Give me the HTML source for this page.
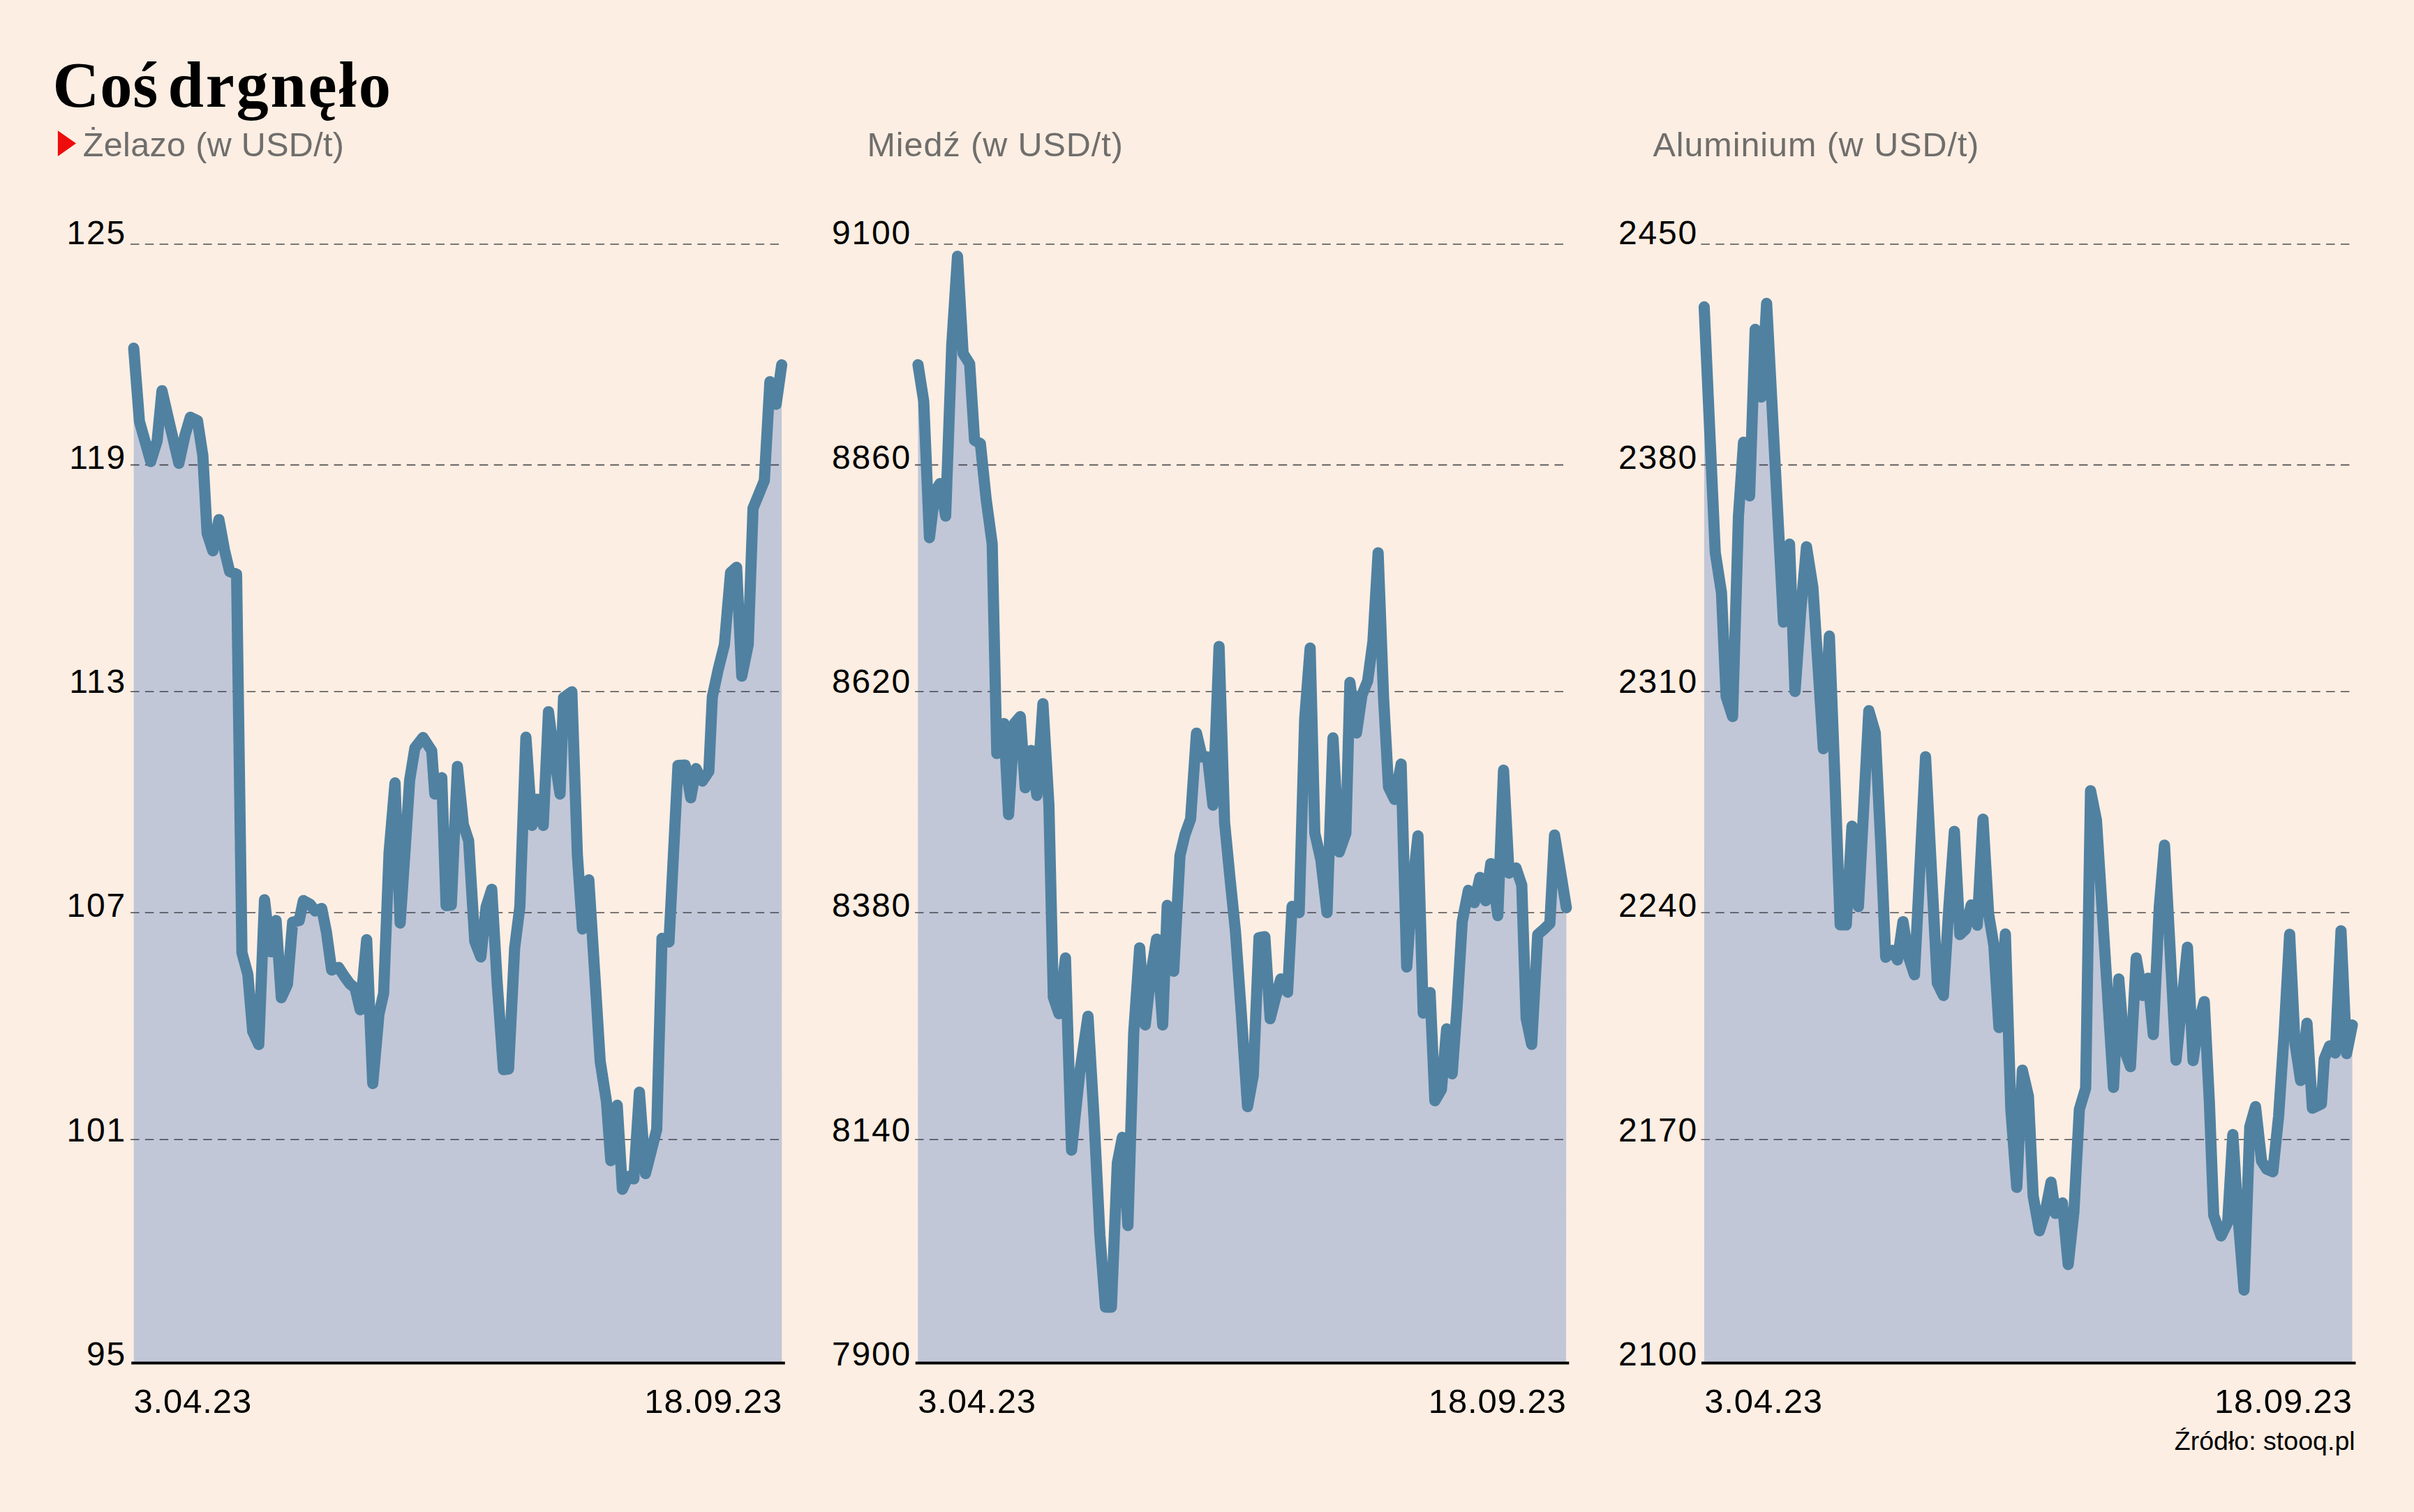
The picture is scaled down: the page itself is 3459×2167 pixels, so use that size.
<!DOCTYPE html>
<html lang="pl"><head><meta charset="utf-8"><title>Coś drgnęło</title>
<style>
html,body{margin:0;padding:0;background:#fceee2;}
body{width:3459px;height:2167px;overflow:hidden;}
svg{display:block;}
text{font-family:"Liberation Sans",sans-serif;}
.t{font-family:"Liberation Serif",serif;font-weight:bold;}
</style></head><body>
<svg width="3459" height="2167" viewBox="0 0 3459 2167">
<rect width="3459" height="2167" fill="#fceee2"/>
<text class="t" x="75.5" y="153.2" font-size="92.5" letter-spacing="0.85" fill="#000">Coś</text>
<text class="t" x="240.6" y="153.2" font-size="92.5" letter-spacing="2.7" fill="#000">drgnęło</text>
<path d="M82.9 187.3 L109 205.6 L82.9 224 Z" fill="#ed0d0d"/>
<g>
<text x="118.8" y="223.6" font-size="48.5" letter-spacing="0.33" fill="#706e6c">Żelazo (w USD/t)</text>
<path d="M191.7 1953.5 L191.6 499 L199.8 604 L208 633 L216 661.5 L225.2 631.6 L232.1 560 L244 611.7 L256.3 664 L265 624 L272.7 598 L283 603 L290.6 652.7 L296.8 764.6 L305 789.4 L313.7 744.7 L321.6 788 L329 819 L339 823 L346.7 1365.3 L355.1 1396.4 L362.1 1478.4 L370.8 1497 L379 1289.5 L387.7 1364 L395.6 1319.3 L403.1 1430 L411.8 1411 L419.3 1321.8 L428.7 1319.3 L434.7 1290.7 L444 1295.7 L451.6 1305.6 L461 1302 L467.7 1335.5 L475.2 1390.2 L485.1 1386.4 L493.3 1399 L501.3 1410 L508.7 1416 L516.2 1447.3 L525.4 1346.7 L534.1 1553 L543 1453.5 L549.7 1423.7 L557.5 1222 L566 1122 L573.4 1323 L581 1210 L587 1118 L594.5 1072 L606.2 1057 L618.6 1076 L623 1138 L633 1114.6 L639.2 1298 L646.7 1297 L655.4 1098.4 L664 1182 L671.5 1205 L680.3 1349 L689 1371.5 L696.5 1300 L704.6 1274.6 L712.5 1410 L721.3 1533 L728.7 1532 L737.4 1359 L744.9 1299.4 L753.6 1056.5 L762.3 1183 L769.7 1145.6 L778.4 1183 L785.9 1020 L794 1082 L802.5 1138 L807.5 1000 L819.4 991.5 L827.3 1225 L834.6 1331.5 L843.7 1261 L852 1392 L860 1521 L869 1579 L875.2 1663.5 L884.4 1584 L891.8 1704.5 L900.3 1686 L908.2 1689.6 L916.2 1565.3 L924.9 1682 L933 1650 L941 1618.7 L948.6 1344.7 L958.6 1350 L971.5 1097 L981.8 1096.5 L989.8 1143.4 L997.3 1101.5 L1006.3 1119.5 L1015.7 1105.6 L1020.7 998.7 L1029 960 L1038 924 L1046.8 820.8 L1055.5 813 L1062.9 969 L1072.1 924 L1079 728.6 L1087 709 L1095.2 688.8 L1103.2 547 L1112.1 579.4 L1120.1 522.8 L1120.3 1953.5 Z" fill="#c2c7d8"/>
<line x1="187" y1="350" x2="1117.6" y2="350" stroke="#26262c" stroke-opacity="0.8" stroke-width="1.6" stroke-dasharray="12.5 8.33"/>
<line x1="187" y1="666.4" x2="1117.6" y2="666.4" stroke="#26262c" stroke-opacity="0.8" stroke-width="1.6" stroke-dasharray="12.5 8.33"/>
<line x1="187" y1="991.2" x2="1117.6" y2="991.2" stroke="#26262c" stroke-opacity="0.8" stroke-width="1.6" stroke-dasharray="12.5 8.33"/>
<line x1="187" y1="1308" x2="1117.6" y2="1308" stroke="#26262c" stroke-opacity="0.8" stroke-width="1.6" stroke-dasharray="12.5 8.33"/>
<line x1="187" y1="1633.2" x2="1117.6" y2="1633.2" stroke="#26262c" stroke-opacity="0.8" stroke-width="1.6" stroke-dasharray="12.5 8.33"/>
<path d="M191.6 499 L199.8 604 L208 633 L216 661.5 L225.2 631.6 L232.1 560 L244 611.7 L256.3 664 L265 624 L272.7 598 L283 603 L290.6 652.7 L296.8 764.6 L305 789.4 L313.7 744.7 L321.6 788 L329 819 L339 823 L346.7 1365.3 L355.1 1396.4 L362.1 1478.4 L370.8 1497 L379 1289.5 L387.7 1364 L395.6 1319.3 L403.1 1430 L411.8 1411 L419.3 1321.8 L428.7 1319.3 L434.7 1290.7 L444 1295.7 L451.6 1305.6 L461 1302 L467.7 1335.5 L475.2 1390.2 L485.1 1386.4 L493.3 1399 L501.3 1410 L508.7 1416 L516.2 1447.3 L525.4 1346.7 L534.1 1553 L543 1453.5 L549.7 1423.7 L557.5 1222 L566 1122 L573.4 1323 L581 1210 L587 1118 L594.5 1072 L606.2 1057 L618.6 1076 L623 1138 L633 1114.6 L639.2 1298 L646.7 1297 L655.4 1098.4 L664 1182 L671.5 1205 L680.3 1349 L689 1371.5 L696.5 1300 L704.6 1274.6 L712.5 1410 L721.3 1533 L728.7 1532 L737.4 1359 L744.9 1299.4 L753.6 1056.5 L762.3 1183 L769.7 1145.6 L778.4 1183 L785.9 1020 L794 1082 L802.5 1138 L807.5 1000 L819.4 991.5 L827.3 1225 L834.6 1331.5 L843.7 1261 L852 1392 L860 1521 L869 1579 L875.2 1663.5 L884.4 1584 L891.8 1704.5 L900.3 1686 L908.2 1689.6 L916.2 1565.3 L924.9 1682 L933 1650 L941 1618.7 L948.6 1344.7 L958.6 1350 L971.5 1097 L981.8 1096.5 L989.8 1143.4 L997.3 1101.5 L1006.3 1119.5 L1015.7 1105.6 L1020.7 998.7 L1029 960 L1038 924 L1046.8 820.8 L1055.5 813 L1062.9 969 L1072.1 924 L1079 728.6 L1087 709 L1095.2 688.8 L1103.2 547 L1112.1 579.4 L1120.1 522.8" fill="none" stroke="#5081a1" stroke-width="16" stroke-linejoin="round" stroke-linecap="round"/>
<line x1="188.2" y1="1953.5" x2="1124.8" y2="1953.5" stroke="#000" stroke-width="4.2"/>
<text x="181.1" y="350.3" font-size="48" letter-spacing="1.8" text-anchor="end" fill="#000">125</text>
<text x="181.1" y="671.6" font-size="48" letter-spacing="1.8" text-anchor="end" fill="#000">119</text>
<text x="181.1" y="993" font-size="48" letter-spacing="1.8" text-anchor="end" fill="#000">113</text>
<text x="181.1" y="1314.3" font-size="48" letter-spacing="1.8" text-anchor="end" fill="#000">107</text>
<text x="181.1" y="1635.6" font-size="48" letter-spacing="1.8" text-anchor="end" fill="#000">101</text>
<text x="181.1" y="1957" font-size="48" letter-spacing="1.8" text-anchor="end" fill="#000">95</text>
<text x="191.4" y="2025" font-size="49" letter-spacing="0.9" fill="#000">3.04.23</text>
<text x="1121.2" y="2025" font-size="49" letter-spacing="0.9" text-anchor="end" fill="#000">18.09.23</text>
</g>
<g>
<text x="1242.5" y="223.6" font-size="48.5" letter-spacing="0.95" fill="#706e6c">Miedź (w USD/t)</text>
<path d="M1315.2 1953.5 L1315.4 522.7 L1323.6 575 L1331.8 770.7 L1339.7 705 L1347 693 L1355 739.7 L1363.8 494 L1372 367.3 L1380 506.5 L1389.4 521.5 L1396.4 630.8 L1404.8 635.8 L1413 715 L1421.7 779.4 L1428.3 1080 L1438.5 1037 L1445.2 1167.6 L1453.4 1037 L1462 1027 L1469 1129 L1477.5 1075.6 L1485.7 1140 L1494.4 1008.5 L1503 1154 L1509.3 1429 L1517.3 1452.8 L1526.7 1373 L1535.4 1648.4 L1547 1538.6 L1559 1456.5 L1567.5 1600 L1576 1770 L1584 1873.4 L1592.5 1873.4 L1601 1667 L1608.2 1630 L1616.2 1756.5 L1624.5 1480 L1633 1358.4 L1641 1469 L1649 1397 L1657.2 1346 L1666 1469 L1672.5 1297.5 L1681.8 1392 L1690.8 1226 L1698 1196 L1706 1173.8 L1714.4 1050.7 L1722.4 1084.7 L1730.3 1084.7 L1738 1154 L1746.8 926.4 L1754.7 1178.7 L1762.4 1258 L1770.3 1335 L1778.5 1450 L1787.6 1586 L1795.8 1541.5 L1804 1344 L1812.4 1342.5 L1820 1460 L1827.6 1430 L1835.3 1403 L1845 1422 L1851.4 1299 L1861.6 1308 L1869.5 1030 L1877.3 928.8 L1884 1194 L1892.6 1232 L1901.5 1308 L1910 1057.5 L1919 1221 L1928.5 1194 L1934.3 978 L1943.7 1050.5 L1951.6 996 L1959.7 976 L1967.3 919 L1974.7 792.2 L1982.5 1000 L1989.6 1128 L1998.3 1145.8 L2007.7 1095 L2015.7 1386 L2023.7 1272 L2031.8 1198 L2039.3 1452 L2049.2 1422.5 L2056 1577.6 L2065.4 1561.5 L2072.9 1474.5 L2080.8 1539 L2088 1440 L2095.2 1321 L2104 1276 L2112.6 1293.7 L2120.6 1257.6 L2128.8 1291 L2136.2 1237.7 L2146.2 1312.3 L2154.4 1103.7 L2162.3 1251.4 L2172.3 1244 L2180.5 1268.5 L2186.8 1459.5 L2194.7 1496.8 L2203.4 1339.6 L2212 1332 L2220.8 1323.5 L2227.5 1196.7 L2236 1249 L2244.4 1301 L2244 1953.5 Z" fill="#c2c7d8"/>
<line x1="1311" y1="350" x2="2240.6" y2="350" stroke="#26262c" stroke-opacity="0.8" stroke-width="1.6" stroke-dasharray="12.5 8.33"/>
<line x1="1311" y1="666.4" x2="2240.6" y2="666.4" stroke="#26262c" stroke-opacity="0.8" stroke-width="1.6" stroke-dasharray="12.5 8.33"/>
<line x1="1311" y1="991.2" x2="2240.6" y2="991.2" stroke="#26262c" stroke-opacity="0.8" stroke-width="1.6" stroke-dasharray="12.5 8.33"/>
<line x1="1311" y1="1308" x2="2240.6" y2="1308" stroke="#26262c" stroke-opacity="0.8" stroke-width="1.6" stroke-dasharray="12.5 8.33"/>
<line x1="1311" y1="1633.2" x2="2240.6" y2="1633.2" stroke="#26262c" stroke-opacity="0.8" stroke-width="1.6" stroke-dasharray="12.5 8.33"/>
<path d="M1315.4 522.7 L1323.6 575 L1331.8 770.7 L1339.7 705 L1347 693 L1355 739.7 L1363.8 494 L1372 367.3 L1380 506.5 L1389.4 521.5 L1396.4 630.8 L1404.8 635.8 L1413 715 L1421.7 779.4 L1428.3 1080 L1438.5 1037 L1445.2 1167.6 L1453.4 1037 L1462 1027 L1469 1129 L1477.5 1075.6 L1485.7 1140 L1494.4 1008.5 L1503 1154 L1509.3 1429 L1517.3 1452.8 L1526.7 1373 L1535.4 1648.4 L1547 1538.6 L1559 1456.5 L1567.5 1600 L1576 1770 L1584 1873.4 L1592.5 1873.4 L1601 1667 L1608.2 1630 L1616.2 1756.5 L1624.5 1480 L1633 1358.4 L1641 1469 L1649 1397 L1657.2 1346 L1666 1469 L1672.5 1297.5 L1681.8 1392 L1690.8 1226 L1698 1196 L1706 1173.8 L1714.4 1050.7 L1722.4 1084.7 L1730.3 1084.7 L1738 1154 L1746.8 926.4 L1754.7 1178.7 L1762.4 1258 L1770.3 1335 L1778.5 1450 L1787.6 1586 L1795.8 1541.5 L1804 1344 L1812.4 1342.5 L1820 1460 L1827.6 1430 L1835.3 1403 L1845 1422 L1851.4 1299 L1861.6 1308 L1869.5 1030 L1877.3 928.8 L1884 1194 L1892.6 1232 L1901.5 1308 L1910 1057.5 L1919 1221 L1928.5 1194 L1934.3 978 L1943.7 1050.5 L1951.6 996 L1959.7 976 L1967.3 919 L1974.7 792.2 L1982.5 1000 L1989.6 1128 L1998.3 1145.8 L2007.7 1095 L2015.7 1386 L2023.7 1272 L2031.8 1198 L2039.3 1452 L2049.2 1422.5 L2056 1577.6 L2065.4 1561.5 L2072.9 1474.5 L2080.8 1539 L2088 1440 L2095.2 1321 L2104 1276 L2112.6 1293.7 L2120.6 1257.6 L2128.8 1291 L2136.2 1237.7 L2146.2 1312.3 L2154.4 1103.7 L2162.3 1251.4 L2172.3 1244 L2180.5 1268.5 L2186.8 1459.5 L2194.7 1496.8 L2203.4 1339.6 L2212 1332 L2220.8 1323.5 L2227.5 1196.7 L2236 1249 L2244.4 1301" fill="none" stroke="#5081a1" stroke-width="16" stroke-linejoin="round" stroke-linecap="round"/>
<line x1="1311.7" y1="1953.5" x2="2248.3" y2="1953.5" stroke="#000" stroke-width="4.2"/>
<text x="1306.1" y="350.3" font-size="48" letter-spacing="1.8" text-anchor="end" fill="#000">9100</text>
<text x="1306.1" y="671.6" font-size="48" letter-spacing="1.8" text-anchor="end" fill="#000">8860</text>
<text x="1306.1" y="993" font-size="48" letter-spacing="1.8" text-anchor="end" fill="#000">8620</text>
<text x="1306.1" y="1314.3" font-size="48" letter-spacing="1.8" text-anchor="end" fill="#000">8380</text>
<text x="1306.1" y="1635.6" font-size="48" letter-spacing="1.8" text-anchor="end" fill="#000">8140</text>
<text x="1306.1" y="1957" font-size="48" letter-spacing="1.8" text-anchor="end" fill="#000">7900</text>
<text x="1315.2" y="2025" font-size="49" letter-spacing="0.9" fill="#000">3.04.23</text>
<text x="2244.7" y="2025" font-size="49" letter-spacing="0.9" text-anchor="end" fill="#000">18.09.23</text>
</g>
<g>
<text x="2368.4" y="223.6" font-size="48.5" letter-spacing="0.95" fill="#706e6c">Aluminium (w USD/t)</text>
<path d="M2442 1953.5 L2441.9 439.8 L2449.8 616 L2457.8 792 L2466.7 849.4 L2473.4 998.6 L2482.6 1027 L2491 740 L2498.3 633.7 L2507 710.7 L2515 472 L2523.9 569 L2531.4 434.8 L2555.5 891.7 L2564.2 779.8 L2572.1 991.1 L2580.3 875 L2588.5 783.6 L2597.7 842 L2605.2 957.6 L2612.6 1073 L2621.3 911.6 L2629 1110 L2636.8 1325.6 L2645.5 1325.6 L2653.7 1184 L2662.9 1299.5 L2670.4 1159 L2677.8 1018.6 L2687 1050 L2695 1210 L2702 1372 L2711.4 1362 L2718.9 1375.8 L2726.8 1321 L2735 1372 L2743.2 1397 L2751.2 1240 L2759.1 1084.5 L2767.5 1247 L2776 1409 L2784.7 1426.8 L2792.5 1300 L2800.4 1191.4 L2808.3 1339.5 L2816.3 1332 L2824.5 1297 L2833.2 1326 L2841.4 1174 L2849.5 1310 L2857 1355 L2864.3 1472.8 L2873.5 1338.5 L2881.3 1590 L2889.8 1701.8 L2897.8 1533.7 L2906.5 1571 L2913.3 1714 L2922.2 1764 L2930.2 1739 L2938.9 1694.3 L2945.2 1739 L2955.2 1724 L2963.5 1812.4 L2971.7 1736.6 L2979.5 1590 L2988.5 1559.8 L2995.5 1133.2 L3004 1175.5 L3028.4 1558.5 L3036 1403 L3044.2 1505 L3052.7 1528.7 L3061 1373 L3070 1426.8 L3077.8 1402 L3085.4 1482.7 L3094 1300 L3101.5 1211.2 L3118 1519.5 L3126.2 1439 L3134.4 1357.4 L3142.4 1520 L3150.3 1466 L3158.5 1435.5 L3165.8 1580 L3172 1741.6 L3182.5 1771.4 L3192 1752 L3199.4 1626 L3207.2 1748 L3215.5 1849 L3223.7 1615 L3231.9 1586 L3240.6 1664 L3248 1675.7 L3256.7 1679.4 L3265 1600 L3273 1480 L3280.8 1339 L3288.5 1495 L3296.5 1548.6 L3305.7 1466.5 L3313.4 1588.3 L3326.3 1582 L3330.5 1517.5 L3338 1499 L3346.2 1509.3 L3354.4 1334 L3362.4 1510 L3370.6 1469 L3370.5 1953.5 Z" fill="#c2c7d8"/>
<line x1="2437.4" y1="350" x2="3367.3" y2="350" stroke="#26262c" stroke-opacity="0.8" stroke-width="1.6" stroke-dasharray="12.5 8.33"/>
<line x1="2437.4" y1="666.4" x2="3367.3" y2="666.4" stroke="#26262c" stroke-opacity="0.8" stroke-width="1.6" stroke-dasharray="12.5 8.33"/>
<line x1="2437.4" y1="991.2" x2="3367.3" y2="991.2" stroke="#26262c" stroke-opacity="0.8" stroke-width="1.6" stroke-dasharray="12.5 8.33"/>
<line x1="2437.4" y1="1308" x2="3367.3" y2="1308" stroke="#26262c" stroke-opacity="0.8" stroke-width="1.6" stroke-dasharray="12.5 8.33"/>
<line x1="2437.4" y1="1633.2" x2="3367.3" y2="1633.2" stroke="#26262c" stroke-opacity="0.8" stroke-width="1.6" stroke-dasharray="12.5 8.33"/>
<path d="M2441.9 439.8 L2449.8 616 L2457.8 792 L2466.7 849.4 L2473.4 998.6 L2482.6 1027 L2491 740 L2498.3 633.7 L2507 710.7 L2515 472 L2523.9 569 L2531.4 434.8 L2555.5 891.7 L2564.2 779.8 L2572.1 991.1 L2580.3 875 L2588.5 783.6 L2597.7 842 L2605.2 957.6 L2612.6 1073 L2621.3 911.6 L2629 1110 L2636.8 1325.6 L2645.5 1325.6 L2653.7 1184 L2662.9 1299.5 L2670.4 1159 L2677.8 1018.6 L2687 1050 L2695 1210 L2702 1372 L2711.4 1362 L2718.9 1375.8 L2726.8 1321 L2735 1372 L2743.2 1397 L2751.2 1240 L2759.1 1084.5 L2767.5 1247 L2776 1409 L2784.7 1426.8 L2792.5 1300 L2800.4 1191.4 L2808.3 1339.5 L2816.3 1332 L2824.5 1297 L2833.2 1326 L2841.4 1174 L2849.5 1310 L2857 1355 L2864.3 1472.8 L2873.5 1338.5 L2881.3 1590 L2889.8 1701.8 L2897.8 1533.7 L2906.5 1571 L2913.3 1714 L2922.2 1764 L2930.2 1739 L2938.9 1694.3 L2945.2 1739 L2955.2 1724 L2963.5 1812.4 L2971.7 1736.6 L2979.5 1590 L2988.5 1559.8 L2995.5 1133.2 L3004 1175.5 L3028.4 1558.5 L3036 1403 L3044.2 1505 L3052.7 1528.7 L3061 1373 L3070 1426.8 L3077.8 1402 L3085.4 1482.7 L3094 1300 L3101.5 1211.2 L3118 1519.5 L3126.2 1439 L3134.4 1357.4 L3142.4 1520 L3150.3 1466 L3158.5 1435.5 L3165.8 1580 L3172 1741.6 L3182.5 1771.4 L3192 1752 L3199.4 1626 L3207.2 1748 L3215.5 1849 L3223.7 1615 L3231.9 1586 L3240.6 1664 L3248 1675.7 L3256.7 1679.4 L3265 1600 L3273 1480 L3280.8 1339 L3288.5 1495 L3296.5 1548.6 L3305.7 1466.5 L3313.4 1588.3 L3326.3 1582 L3330.5 1517.5 L3338 1499 L3346.2 1509.3 L3354.4 1334 L3362.4 1510 L3370.6 1469" fill="none" stroke="#5081a1" stroke-width="16" stroke-linejoin="round" stroke-linecap="round"/>
<line x1="2438" y1="1953.5" x2="3375.5" y2="1953.5" stroke="#000" stroke-width="4.2"/>
<text x="2433.1" y="350.3" font-size="48" letter-spacing="1.8" text-anchor="end" fill="#000">2450</text>
<text x="2433.1" y="671.6" font-size="48" letter-spacing="1.8" text-anchor="end" fill="#000">2380</text>
<text x="2433.1" y="993" font-size="48" letter-spacing="1.8" text-anchor="end" fill="#000">2310</text>
<text x="2433.1" y="1314.3" font-size="48" letter-spacing="1.8" text-anchor="end" fill="#000">2240</text>
<text x="2433.1" y="1635.6" font-size="48" letter-spacing="1.8" text-anchor="end" fill="#000">2170</text>
<text x="2433.1" y="1957" font-size="48" letter-spacing="1.8" text-anchor="end" fill="#000">2100</text>
<text x="2442.2" y="2025" font-size="49" letter-spacing="0.9" fill="#000">3.04.23</text>
<text x="3370.9" y="2025" font-size="49" letter-spacing="0.9" text-anchor="end" fill="#000">18.09.23</text>
</g>
<text x="3374.7" y="2077.7" font-size="37.6" text-anchor="end" fill="#000">Źródło: stooq.pl</text>
</svg>
</body></html>
